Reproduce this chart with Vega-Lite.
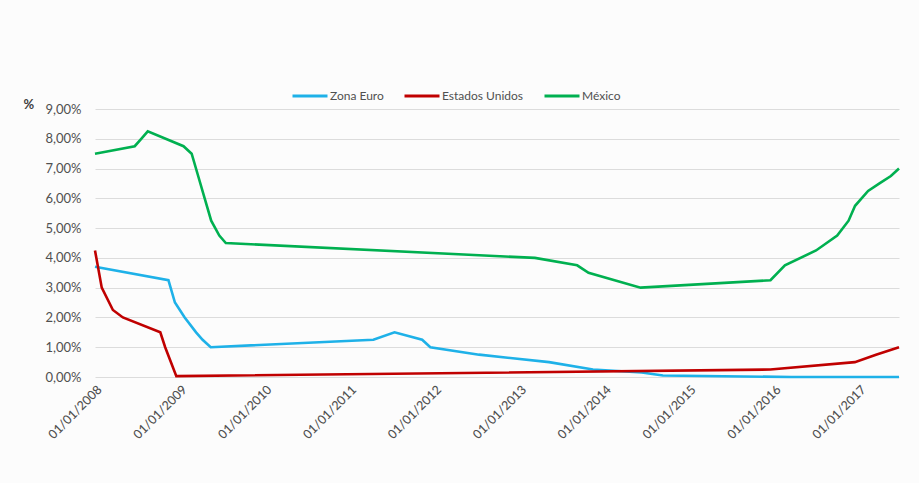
{
  "$schema": "https://vega.github.io/schema/vega-lite/v6.json",
  "width": 804,
  "height": 268,
  "autosize": {"type": "none"},
  "padding": {"left": 95, "top": 109, "right": 20, "bottom": 106},
  "background": "#fcfcfc",
  "config": {
    "font": "Lato",
    "view": {"stroke": null},
    "axis": {"labelColor": "#505050", "labelFont": "Lato"}
  },
  "data": {
    "values": [
      {"date": "2008-01-01", "serie": "Zona Euro", "value": 3.7},
      {"date": "2008-11-12", "serie": "Zona Euro", "value": 3.25},
      {"date": "2008-12-10", "serie": "Zona Euro", "value": 2.5},
      {"date": "2009-01-21", "serie": "Zona Euro", "value": 2.0},
      {"date": "2009-03-11", "serie": "Zona Euro", "value": 1.5},
      {"date": "2009-04-08", "serie": "Zona Euro", "value": 1.25},
      {"date": "2009-05-13", "serie": "Zona Euro", "value": 1.0},
      {"date": "2011-04-13", "serie": "Zona Euro", "value": 1.25},
      {"date": "2011-07-13", "serie": "Zona Euro", "value": 1.5},
      {"date": "2011-11-09", "serie": "Zona Euro", "value": 1.25},
      {"date": "2011-12-14", "serie": "Zona Euro", "value": 1.0},
      {"date": "2012-07-11", "serie": "Zona Euro", "value": 0.75},
      {"date": "2013-05-08", "serie": "Zona Euro", "value": 0.5},
      {"date": "2013-11-13", "serie": "Zona Euro", "value": 0.25},
      {"date": "2014-06-11", "serie": "Zona Euro", "value": 0.15},
      {"date": "2014-09-10", "serie": "Zona Euro", "value": 0.05},
      {"date": "2016-03-16", "serie": "Zona Euro", "value": 0.0},
      {"date": "2017-06-22", "serie": "Zona Euro", "value": 0.0},

      {"date": "2008-01-01", "serie": "Estados Unidos", "value": 4.25},
      {"date": "2008-01-30", "serie": "Estados Unidos", "value": 3.0},
      {"date": "2008-03-18", "serie": "Estados Unidos", "value": 2.25},
      {"date": "2008-04-30", "serie": "Estados Unidos", "value": 2.0},
      {"date": "2008-10-08", "serie": "Estados Unidos", "value": 1.5},
      {"date": "2008-10-29", "serie": "Estados Unidos", "value": 1.0},
      {"date": "2008-12-16", "serie": "Estados Unidos", "value": 0.03},
      {"date": "2015-12-16", "serie": "Estados Unidos", "value": 0.25},
      {"date": "2016-12-14", "serie": "Estados Unidos", "value": 0.5},
      {"date": "2017-03-15", "serie": "Estados Unidos", "value": 0.75},
      {"date": "2017-06-22", "serie": "Estados Unidos", "value": 1.0},

      {"date": "2008-01-01", "serie": "México", "value": 7.5},
      {"date": "2008-06-20", "serie": "México", "value": 7.75},
      {"date": "2008-07-18", "serie": "México", "value": 8.0},
      {"date": "2008-08-15", "serie": "México", "value": 8.25},
      {"date": "2009-01-16", "serie": "México", "value": 7.75},
      {"date": "2009-02-20", "serie": "México", "value": 7.5},
      {"date": "2009-03-20", "serie": "México", "value": 6.75},
      {"date": "2009-04-17", "serie": "México", "value": 6.0},
      {"date": "2009-05-15", "serie": "México", "value": 5.25},
      {"date": "2009-06-19", "serie": "México", "value": 4.75},
      {"date": "2009-07-17", "serie": "México", "value": 4.5},
      {"date": "2013-03-08", "serie": "México", "value": 4.0},
      {"date": "2013-09-06", "serie": "México", "value": 3.75},
      {"date": "2013-10-25", "serie": "México", "value": 3.5},
      {"date": "2014-06-06", "serie": "México", "value": 3.0},
      {"date": "2015-12-17", "serie": "México", "value": 3.25},
      {"date": "2016-02-17", "serie": "México", "value": 3.75},
      {"date": "2016-06-30", "serie": "México", "value": 4.25},
      {"date": "2016-09-29", "serie": "México", "value": 4.75},
      {"date": "2016-11-17", "serie": "México", "value": 5.25},
      {"date": "2016-12-15", "serie": "México", "value": 5.75},
      {"date": "2017-02-09", "serie": "México", "value": 6.25},
      {"date": "2017-03-30", "serie": "México", "value": 6.5},
      {"date": "2017-05-18", "serie": "México", "value": 6.75},
      {"date": "2017-06-22", "serie": "México", "value": 7.0}
    ]
  },
  "mark": {"type": "line", "strokeWidth": 2.6, "clip": false},
  "encoding": {
    "x": {
      "field": "date",
      "type": "temporal",
      "scale": {"domain": ["2008-01-01", "2017-06-22"]},
      "axis": {
        "title": null,
        "format": "%d/%m/%Y",
        "labelAngle": -45,
        "tickCount": {"interval": "year", "step": 1},
        "grid": false,
        "ticks": false,
        "domain": false,
        "labelPadding": 6,
        "labelFontSize": 12.5,
        "labelFontWeight": 500
      }
    },
    "y": {
      "field": "value",
      "type": "quantitative",
      "scale": {"domain": [0, 9], "nice": false},
      "axis": {
        "values": [0, 1, 2, 3, 4, 5, 6, 7, 8, 9],
        "labelExpr": "replace(format(datum.value, '.2f'), '.', ',') + '%'",
        "labelFontSize": 13,
        "title": "%",
        "titleAngle": 0,
        "titleX": -72,
        "titleY": -5,
        "titleAlign": "left",
        "titleBaseline": "middle",
        "titleFontSize": 13,
        "titleFontWeight": "bold",
        "titleColor": "#404040",
        "grid": true,
        "gridColor": "#dcdcdc",
        "gridWidth": 1,
        "ticks": false,
        "domain": false,
        "labelPadding": 14
      }
    },
    "color": {
      "field": "serie",
      "type": "nominal",
      "sort": ["Zona Euro", "Estados Unidos", "México"],
      "scale": {
        "domain": ["Zona Euro", "Estados Unidos", "México"],
        "range": ["#1eb1e8", "#c00000", "#00b050"]
      },
      "legend": {
        "title": null,
        "orient": "none",
        "direction": "horizontal",
        "legendX": 196,
        "legendY": -32,
        "padding": 0,
        "symbolType": "stroke",
        "symbolSize": 1225,
        "symbolStrokeWidth": 3,
        "labelOffset": 1,
        "columnPadding": 14,
        "labelFontSize": 12,
        "labelColor": "#505050",
        "labelFont": "Lato"
      }
    }
  }
}
